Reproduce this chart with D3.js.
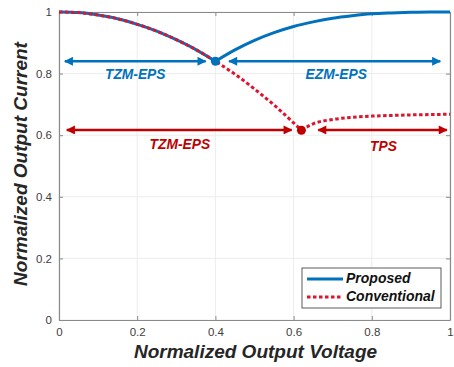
<!DOCTYPE html>
<html><head><meta charset="utf-8">
<script src="https://cdn.jsdelivr.net/npm/d3@7"></script>
<style>body{margin:0;background:#fff}svg{display:block}text{font-family:Arial,"Liberation Sans",sans-serif}</style>
</head><body><svg id="c" width="454" height="367"></svg>
<script>
// Data
const sharedV = [0, 0.05, 0.1, 0.15, 0.2, 0.25, 0.3, 0.35, 0.4];
const sharedI = [1, 0.998, 0.99, 0.978, 0.96, 0.938, 0.91, 0.878, 0.84];
const propRiseV = [0.4, 0.45, 0.5, 0.55, 0.6, 0.65, 0.7, 0.75, 0.8, 0.85, 0.9, 0.95, 1.0];
const propRiseI = [0.84, 0.877, 0.908, 0.933, 0.953, 0.968, 0.98, 0.988, 0.994, 0.997, 0.999, 1.0, 1.0];
const convFallV = [0.4, 0.45, 0.5, 0.55, 0.6, 0.62];
const convFallI = [0.84, 0.798, 0.75, 0.698, 0.64, 0.616];
const convRiseV = [0.62, 0.65, 0.7, 0.75, 0.8, 0.85, 0.9, 0.95, 1.0];
const convRiseI = [0.616, 0.637, 0.651, 0.658, 0.662, 0.664, 0.666, 0.667, 0.668];
const xTicks = [0, 0.2, 0.4, 0.6, 0.8, 1];
const yTicks = [0, 0.2, 0.4, 0.6, 0.8, 1];
const xTickLabels = ["0", "0.2", "0.4", "0.6", "0.8", "1"];
const yTickLabels = ["0", "0.2", "0.4", "0.6", "0.8", "1"];
const transitionPts = [{v: 0.4, i: 0.84, s: "blue"}, {v: 0.62, i: 0.616, s: "red"}];
const arrows = [
  {v0: 0.015, v1: 0.375, i: 0.84, s: "blue", label: "TZM-EPS", lv: 0.195, li: 0.795},
  {v0: 0.435, v1: 0.975, i: 0.84, s: "blue", label: "EZM-EPS", lv: 0.709, li: 0.795},
  {v0: 0.02, v1: 0.595, i: 0.617, s: "red", label: "TZM-EPS", lv: 0.309, li: 0.568},
  {v0: 0.663, v1: 0.992, i: 0.617, s: "red", label: "TPS", lv: 0.83, li: 0.562}
];
const legendNames = ["Proposed", "Conventional"];

const BLUE = "#0072BD", RED = "#C00000", RED_DOT = "#E0122D";
const svg = d3.select("#c");
const x = d3.scaleLinear().domain([0, 1]).range([59, 450]);
const y = d3.scaleLinear().domain([0, 1]).range([320, 12]);

// grid
const g = svg.append("g");
g.selectAll(".gx").data(xTicks).enter().append("line")
  .attr("x1", d => x(d)).attr("x2", d => x(d)).attr("y1", y(0)).attr("y2", y(1))
  .attr("stroke", "#ececec").attr("stroke-width", 1);
g.selectAll(".gy").data(yTicks).enter().append("line")
  .attr("y1", d => y(d)).attr("y2", d => y(d)).attr("x1", x(0)).attr("x2", x(1))
  .attr("stroke", "#ececec").attr("stroke-width", 1);

// axes
const ax = d3.axisBottom(x).tickValues(xTicks).tickFormat((d, i) => xTickLabels[i]).tickSizeInner(-4).tickSizeOuter(0).tickPadding(8);
const ay = d3.axisLeft(y).tickValues(yTicks).tickFormat((d, i) => yTickLabels[i]).tickSizeInner(-4).tickSizeOuter(0).tickPadding(7);
const axT = d3.axisTop(x).tickValues(xTicks).tickFormat("").tickSizeInner(-4).tickSizeOuter(0);
const ayR = d3.axisRight(y).tickValues(yTicks).tickFormat("").tickSizeInner(-4).tickSizeOuter(0);
function style(sel){ sel.selectAll("path,line").attr("stroke", "#8a8a8a"); sel.selectAll("text").attr("fill", "#404040").style("font-size", "11.5px"); sel.select(".domain").attr("stroke-width", 1.2); }
svg.append("g").attr("transform", `translate(0,${y(0)})`).call(ax).call(style);
svg.append("g").attr("transform", `translate(${x(0)},0)`).call(ay).call(style);
svg.append("g").attr("transform", `translate(0,${y(1)})`).call(axT).call(style);
svg.append("g").attr("transform", `translate(${x(1)},0)`).call(ayR).call(style);

const line = d3.line().x(d => x(d[0])).y(d => y(d[1])).curve(d3.curveMonotoneX);
const zip = (a, b) => a.map((v, k) => [v, b[k]]);

// arrows
const defs = svg.append("defs");
[["blue", BLUE], ["red", RED]].forEach(([n, c]) => {
  defs.append("marker").attr("id", "ah-" + n).attr("viewBox", "0 0 10 10").attr("refX", 9).attr("refY", 5)
    .attr("markerWidth", 11).attr("markerHeight", 9).attr("markerUnits", "userSpaceOnUse").attr("orient", "auto-start-reverse")
    .append("path").attr("d", "M0,0 L10,5 L0,10 Z").attr("fill", c);
});
arrows.forEach(a => {
  const c = a.s === "blue" ? BLUE : RED;
  svg.append("line").attr("x1", x(a.v0)).attr("x2", x(a.v1)).attr("y1", y(a.i)).attr("y2", y(a.i))
    .attr("stroke", c).attr("stroke-width", 2.6)
    .attr("marker-start", `url(#ah-${a.s})`).attr("marker-end", `url(#ah-${a.s})`);
  svg.append("text").attr("x", x(a.lv)).attr("y", y(a.li)).attr("text-anchor", "middle").attr("dominant-baseline", "middle")
    .attr("fill", c).style("font-size", "13.8px").style("font-weight", "bold").style("font-style", "italic").text(a.label);
});

// curves
svg.append("path").attr("d", line(zip(sharedV, sharedI))).attr("fill", "none").attr("stroke", BLUE).attr("stroke-width", 3);
svg.append("path").attr("d", line(zip(propRiseV, propRiseI))).attr("fill", "none").attr("stroke", BLUE).attr("stroke-width", 3);
const convAll = zip(sharedV, sharedI).concat(zip(convFallV, convFallI).slice(1));
svg.append("path").attr("d", line(convAll)).attr("fill", "none").attr("stroke", RED_DOT).attr("stroke-width", 3).attr("stroke-dasharray", "3.5,2.5");
svg.append("path").attr("d", line(zip(convRiseV, convRiseI))).attr("fill", "none").attr("stroke", RED_DOT).attr("stroke-width", 3).attr("stroke-dasharray", "3.5,2.5");

// transition points
svg.selectAll(".pt").data(transitionPts).enter().append("circle")
  .attr("cx", d => x(d.v)).attr("cy", d => y(d.i)).attr("r", 4.5)
  .attr("fill", d => d.s === "blue" ? BLUE : RED);

// legend
const lg = svg.append("g").attr("transform", "translate(302,268)");
lg.append("rect").attr("width", 139).attr("height", 40).attr("fill", "#fff").attr("stroke", "#333").attr("stroke-width", 0.8);
lg.append("line").attr("x1", 5).attr("x2", 41).attr("y1", 11).attr("y2", 11).attr("stroke", BLUE).attr("stroke-width", 3);
lg.append("line").attr("x1", 5).attr("x2", 41).attr("y1", 29).attr("y2", 29).attr("stroke", RED_DOT).attr("stroke-width", 3).attr("stroke-dasharray", "3.5,2.5");
legendNames.forEach((n, k) => lg.append("text").attr("x", 44).attr("y", 11 + 18 * k).attr("dominant-baseline", "middle")
  .style("font-size", "14px").style("font-weight", "bold").style("font-style", "italic").attr("fill", "#111").text(n));

// axis titles
svg.append("text").attr("x", 255.5).attr("y", 358).attr("text-anchor", "middle").attr("fill", "#262626")
  .style("font-size", "19px").style("font-weight", "bold").style("font-style", "italic").text("Normalized Output Voltage");
svg.append("text").attr("transform", "translate(27,164) rotate(-90)").attr("text-anchor", "middle").attr("fill", "#262626")
  .style("font-size", "19px").style("font-weight", "bold").style("font-style", "italic").text("Normalized Output Current");
</script></body></html>
